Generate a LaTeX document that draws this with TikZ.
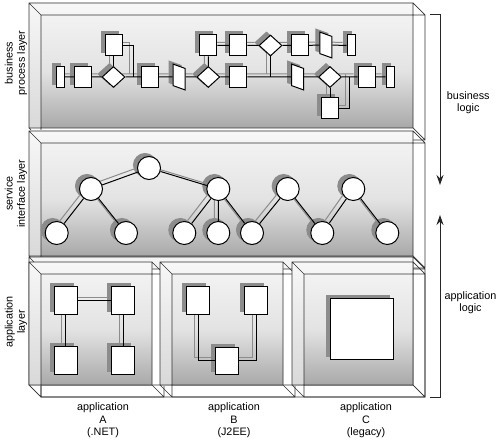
\documentclass[tikz,border=0pt]{standalone}
\usepackage{fontspec}
\setmainfont{Liberation Sans}
\usetikzlibrary{shapes.geometric,arrows.meta}

\colorlet{ink}{black}
\colorlet{paper}{white}
\colorlet{shadowgray}{black!45}

\tikzset{
  backface/.style={top color=gray!6, bottom color=gray!30},
  innerface/.style={top color=gray!10, bottom color=gray!68, middle color=gray!22},
  boxline/.style={draw=black!80, line width=0.7pt},
  plainbox/.style={backface/.style={fill=gray!8}, innerface/.style={fill=white}},
  task/.style={rectangle, draw=ink, fill=paper, line width=1pt, inner sep=0pt,
    minimum width=17pt, minimum height=21pt},
  narrowtask/.style={task, minimum width=8pt},
  datatask/.style={task, minimum width=12pt, minimum height=21.5pt, yslant=-0.36},
  gate/.style={diamond, draw=ink, fill=paper, line width=1pt, inner sep=0pt,
    minimum width=23pt, minimum height=21pt},
  service/.style={circle, draw=ink, fill=paper, line width=1pt, inner sep=0pt,
    minimum size=23pt},
  component/.style={task, minimum width=23pt, minimum height=27.5pt},
  wire/.style={draw=ink, line width=1pt},
  labeltext/.style={align=center, inner sep=0pt, font=\fontsize{10.8}{12.3}\selectfont},
  logicarrow/.style={draw=black!85, line width=0.9pt, -{Stealth[length=10pt,width=7pt]}},
}

% box with back face and front face offset by 12
\newcommand\layerbox[5][]{%
  \begin{scope}[#1]
    \fill[backface] (#2,#3) rectangle (#4,#5);
    \fill[innerface] (#2+12,#3+12) rectangle (#4,#5);
    \draw[boxline] (#2,#3) rectangle (#4,#5) (#2+12,#3+12) rectangle (#4+12,#5+12)
      (#2,#3) -- ++(12,12) (#4,#3) -- ++(12,12) (#2,#5) -- ++(12,12) (#4,#5) -- ++(12,12);
  \end{scope}}

\newcommand\flowcontent{%
  % business process layer
  \node[narrowtask] (r1) at (60,77) {};
  \node[task] (s1) at (83,77) {};
  \node[gate] (d1) at (113.5,77) {};
  \node[task] (u1) at (113.5,45.5) {};
  \node[task] (s2) at (150,77) {};
  \node[datatask] (p1) at (179,77) {};
  \node[gate] (d2) at (208.3,77) {};
  \node[task] (u2) at (208.3,45.5) {};
  \node[task] (u3) at (238.3,45.5) {};
  \node[task] (s3) at (238.3,77) {};
  \node[gate] (d4) at (270.5,45.5) {};
  \node[task] (u4) at (300,45.5) {};
  \node[datatask] (p3) at (325.8,45) {};
  \node[narrowtask] (r3) at (351,45.5) {};
  \node[datatask] (p2) at (297.5,77) {};
  \node[gate] (d3) at (330,77) {};
  \node[task] (s4) at (366.7,77) {};
  \node[narrowtask] (r2) at (390,77) {};
  \node[task] (s5) at (330,108.3) {};
  \coordinate (j1) at (133.3,77);
  \coordinate (j2) at (270.5,77);
  \coordinate (j3) at (349.3,77);
  \draw[wire] (r1) -- (s1) -- (d1) -- (s2) -- (p1) -- (d2) -- (s3) -- (p2) -- (d3) -- (s4) -- (r2);
  \draw[wire] (d1) -- (u1);
  \draw[wire] (u1) -| (j1);
  \draw[wire] (d2) -- (u2) -- (u3) -- (d4) -- (u4) -- (p3) -- (r3);
  \draw[wire] (d4) -- (j2);
  \draw[wire] (d3) -- (s5);
  \draw[wire] (s5) -| (j3);
  % service interface layer
  \node[service] (root) at (149,168) {};
  \node[service] (hub1) at (91,189) {};
  \node[service] (hub2) at (218.3,189) {};
  \node[service] (peak1) at (287.7,189) {};
  \node[service] (peak2) at (353.3,189) {};
  \node[service] (leaf1) at (56.7,233) {};
  \node[service] (leaf2) at (126,233) {};
  \node[service] (leaf3) at (184.3,233) {};
  \node[service] (leaf4) at (218.3,233) {};
  \node[service] (leaf5) at (252,233) {};
  \node[service] (leaf6) at (322.3,233) {};
  \node[service] (leaf7) at (387.3,233) {};
  \draw[wire] (hub1) -- (root) -- (hub2);
  \draw[wire] (leaf1) -- (hub1) -- (leaf2);
  \draw[wire] (hub2) -- (leaf3) (hub2) -- (leaf4) (hub2) -- (leaf5);
  \draw[wire] (leaf5) -- (peak1) -- (leaf6) -- (peak2) -- (leaf7);
  % application layer
  \node[component] (a1) at (65.7,300.5) {};
  \node[component] (a2) at (123.3,300.5) {};
  \node[component] (a3) at (65.7,360.5) {};
  \node[component] (a4) at (123.3,360.5) {};
  \draw[wire] (a3) -- (a1) -- (a2) -- (a4);
  \node[component] (b1) at (198.3,300.5) {};
  \node[component] (b2) at (256,300.5) {};
  \node[component] (b3) at (227.3,360.8) {};
  \draw[wire] (b1) |- (b3);
  \draw[wire] (b2) |- (b3);
  \node[component, minimum width=63pt, minimum height=61pt] (c1) at (361.7,328.8) {};
}

\begin{document}
\begin{tikzpicture}[x=1pt,y=-1pt]
  \useasboundingbox (0,0) rectangle (500,446);
  % layers
  \layerbox{29}{3}{413}{128}
  \layerbox{29}{131}{413}{256}
  \layerbox[plainbox]{29}{257}{413}{385}
  \layerbox{29}{262}{152}{385}
  \layerbox{160}{262}{283}{385}
  \layerbox{292}{262}{413}{385}
  % shadow copy first
  \begin{scope}[shift={(-4,-3)}]
    \colorlet{ink}{shadowgray}\colorlet{paper}{shadowgray}
    \flowcontent
  \end{scope}
  \flowcontent
  % layer names
  \node[labeltext, rotate=90] (bptext) at (16,63) {business\\process layer};
  \node[labeltext, rotate=90] (sitext) at (16,193.5) {service\\interface layer};
  \node[labeltext, rotate=90] (aptext) at (16,322) {application\\layer};
  \node[labeltext] (appa) at (103,420.5) {application\\A\\(.NET)};
  \node[labeltext] (appb) at (234,420.5) {application\\B\\(J2EE)};
  \node[labeltext] (appc) at (366,420.5) {application\\C\\(legacy)};
  % logic brackets
  \coordinate (bltick) at (430,14);
  \coordinate (bltop) at (440,14);
  \coordinate (blend) at (440,185);
  \coordinate (altick) at (430,397);
  \coordinate (albot) at (440,397);
  \coordinate (alend) at (440,215);
  \draw[logicarrow] (bltick) -- (bltop) -- (blend);
  \draw[logicarrow] (altick) -- (albot) -- (alend);
  \node[labeltext] (blogic) at (468.3,102.5) {business\\logic};
  \node[labeltext] (alogic) at (470.5,302.5) {application\\logic};
\end{tikzpicture}
\end{document}
